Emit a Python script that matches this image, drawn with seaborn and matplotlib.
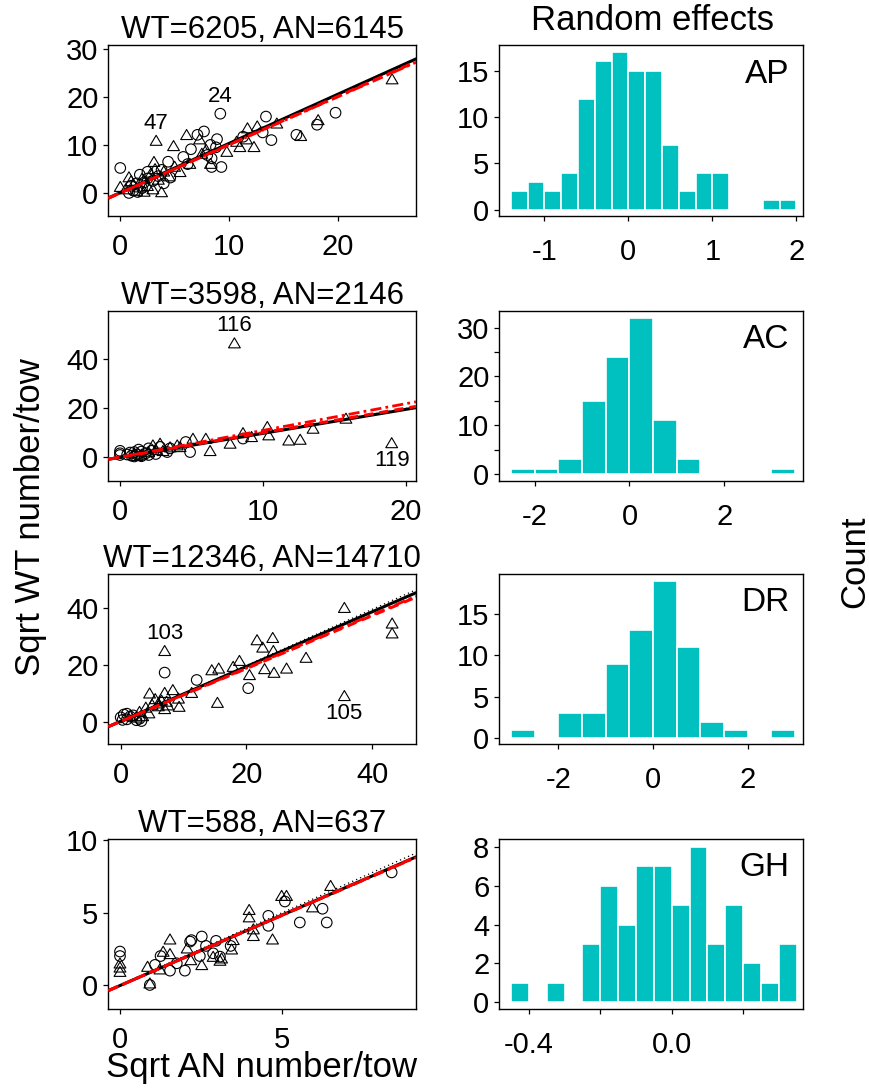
import numpy as np
import pandas as pd
import matplotlib
matplotlib.use("Agg")
import matplotlib.pyplot as plt
from matplotlib.path import Path
import seaborn as sns

# ---------------- data ----------------
titles = ["WT=6205, AN=6145", "WT=3598, AN=2146", "WT=12346, AN=14710", "WT=588, AN=637"]
species = ["AP", "AC", "DR", "GH"]

# panel 1 (AP)
p1_circ_x = [0.0, 9.2, 13.4, 19.8, 16.2, 18.1, 13.9, 7.7, 7.1, 6.5, 8.9, 8.3, 9.3, 8.4, 4.4, 5.8, 2.5,
             13.1, 11.3, 8.0, 8.4, 1.0, 1.5, 2.0, 2.5, 3.0, 1.2, 2.2, 3.5, 4.0, 1.8, 0.8, 1.6, 3.8, 4.6, 8.8, 6.2]
p1_circ_y = [5.2, 16.5, 15.9, 16.7, 12.1, 14.2, 11.0, 12.8, 12.1, 9.1, 11.2, 10.0, 5.4, 5.4, 6.5, 7.5, 4.4,
             12.6, 11.7, 7.9, 7.2, 1.5, 2.0, 1.0, 3.0, 2.5, 0.5, 2.2, 3.5, 2.0, 3.8, 0.0, 0.2, 4.8, 3.2, 9.5, 6.0]
p1_tri_x = [25.0, 3.3, 6.1, 4.9, 7.3, 11.7, 12.6, 14.4, 18.2, 16.6, 12.3, 11.0, 9.8, 10.7, 3.1, 3.8, 5.5,
            0.0, 0.8, 8.3, 7.5, 6.4, 0.5, 1.0, 1.5, 2.0, 2.5, 3.0, 3.5, 4.0, 1.2, 2.8, 1.8, 4.5, 5.0, 3.2,
            2.2, 11.6, 7.9]
p1_tri_y = [23.7, 10.9, 12.1, 9.8, 11.2, 13.5, 13.9, 14.5, 15.2, 11.9, 9.6, 9.6, 8.6, 10.7, 6.5, 0.2, 4.4,
            1.3, 3.3, 6.1, 8.2, 6.1, 0.8, 2.5, 0.5, 3.0, 1.5, 0.8, 2.8, 4.5, 1.8, 4.0, 1.2, 3.5, 5.5, 5.0,
            0.3, 11.2, 9.0]

# panel 2 (AC)
p2_circ_x = [8.6, 4.9, 4.6, 3.3, 2.8, 0.0, 0.0, 0.0, 0.5, 0.8, 1.0, 1.2, 1.5, 1.8, 2.0, 2.2, 1.0, 1.5,
             0.7, 2.5, 3.5, 1.3, 2.0]
p2_circ_y = [7.5, 2.0, 6.1, 2.0, 4.1, 1.5, 2.5, 0.8, 1.0, 0.5, 2.0, 1.0, 0.3, 1.5, 0.8, 2.5, 0.2, 2.2,
             1.8, 1.2, 3.5, 3.0, 3.5]
p2_tri_x = [8.0, 19.0, 15.8, 13.5, 11.8, 12.6, 10.3, 10.4, 9.2, 8.6, 7.7, 6.3, 6.0, 5.1, 4.0, 2.3, 2.8,
            4.2, 1.0, 1.5, 2.0, 2.5, 3.0, 3.5, 1.2]
p2_tri_y = [46.4, 5.7, 15.7, 11.6, 6.8, 7.1, 12.3, 8.9, 8.2, 9.8, 5.5, 2.5, 7.5, 7.5, 4.8, 4.8, 5.5,
            4.1, 1.5, 1.0, 2.0, 3.0, 2.5, 4.0, 0.5]

# panel 3 (DR)
p3_circ_x = [7.0, 12.1, 20.3, 0.0, 0.5, 1.0, 1.5, 2.0, 2.5, 3.3, 1.0, 0.3, 3.0]
p3_circ_y = [17.3, 14.7, 11.8, 1.5, 2.5, 0.8, 1.8, 2.2, 0.5, 0.2, 2.8, 0.6, 1.0]
p3_tri_x = [35.6, 43.2, 43.2, 35.6, 7.0, 21.7, 24.2, 22.6, 24.3, 29.5, 26.4, 24.4, 22.9, 20.5, 18.9,
            17.9, 15.6, 14.5, 15.4, 11.3, 9.3, 8.3, 7.0, 4.6, 9.2, 7.3, 3.0, 4.0, 5.0, 6.0, 6.5, 7.0,
            5.5, 3.5, 4.5, 6.0, 7.5, 2.5, 1.5]
p3_tri_y = [40.2, 34.7, 31.2, 9.1, 25.0, 28.8, 29.6, 26.2, 25.0, 22.6, 18.8, 17.3, 18.6, 16.5, 21.5,
            19.4, 18.8, 18.2, 6.7, 10.2, 5.3, 11.2, 10.2, 10.0, 8.2, 7.1, 3.5, 5.0, 6.0, 5.5, 7.5, 4.5,
            8.0, 2.0, 3.0, 6.5, 5.8, 1.5, 2.0]

# panel 4 (GH)
p4_circ_x = [0.0, 0.0, 0.92, 8.37, 5.08, 4.57, 4.57, 5.54, 6.24, 6.37, 2.52, 2.16, 2.96, 2.65, 3.41,
             2.46, 1.25, 1.08, 1.54, 2.0, 1.75, 2.87, 3.08, 2.2]
p4_circ_y = [2.31, 2.0, 0.0, 7.78, 5.77, 4.78, 4.09, 4.32, 5.27, 4.32, 3.35, 3.0, 3.05, 2.70, 2.70,
             2.0, 2.0, 1.39, 0.99, 0.99, 1.5, 2.19, 1.96, 3.1]
p4_tri_x = [0.0, 0.0, 0.0, 0.92, 0.85, 1.23, 1.33, 1.54, 1.54, 2.07, 2.18, 2.52, 3.08, 3.44, 3.49,
            3.98, 3.98, 4.11, 4.11, 4.70, 4.98, 5.13, 5.93, 6.49, 3.13, 2.87]
p4_tri_y = [1.5, 0.92, 1.22, 0.12, 1.27, 1.09, 2.31, 3.16, 2.15, 2.54, 1.73, 1.39, 1.69, 2.47, 3.12,
            5.2, 4.69, 3.86, 3.40, 3.16, 6.17, 6.17, 5.38, 6.86, 1.85, 1.96]

# outlier labels: (panel, shape, index in that shape's list, text, direction)
outlier_labels = [
    (0, "circ", 1, "24", 1), (0, "tri", 1, "47", 1),
    (1, "tri", 0, "116", 1), (1, "tri", 1, "119", -1),
    (2, "tri", 4, "103", 1), (2, "tri", 3, "105", -1),
]

# fitted lines: intercept / slope for solid black, dotted black, dashed red, dash-dot red
line_solid_a = [0.08, -0.15, 0.13, -0.04]
line_solid_b = [1.023, 0.978, 0.965, 0.975]
line_dot_a = [0.0, 0.0, 0.0, 0.0]
line_dot_b = [1.02, 0.99, 0.99, 1.0]
line_dash_a = [0.0, -0.1, 0.07, -0.04]
line_dash_b = [1.005, 1.0, 0.933, 0.975]
line_dd_a = [0.0, -0.07, 0.07, -0.04]
line_dd_b = [1.0, 1.09, 0.94, 0.97]

# scatter axes
sc_xticks = [[0, 10, 20], [0, 10, 20], [0, 20, 40], [0, 5]]
sc_yticks = [[0, 10, 20, 30], [0, 20, 40], [0, 20, 40], [0, 5, 10]]
sc_xlim = [(-1.1, 27.2), (-0.82, 20.7), (-1.97, 47.0), (-0.36, 9.12)]
sc_ylim = [(-4.8, 30.8), (-9.8, 59.5), (-7.9, 52.1), (-1.66, 10.09)]

# random-effect histograms
hist_start = [-1.4, -2.5, -3.0, -0.45]
hist_width = [0.2, 0.5, 0.5, 0.05]
ap_counts = [2, 3, 2, 4, 12, 16, 17, 15, 15, 7, 2, 4, 4, 0, 0, 1, 1]
ac_counts = [1, 1, 3, 15, 24, 32, 11, 3, 0, 0, 0, 1]
dr_counts = [1, 0, 3, 3, 9, 13, 19, 11, 2, 1, 0, 1]
gh_counts = [1, 0, 1, 0, 3, 6, 4, 7, 7, 5, 8, 3, 5, 2, 1, 3]
hist_counts = [ap_counts, ac_counts, dr_counts, gh_counts]
h_xticks = [[-1, 0, 1, 2], [-2, 0, 2], [-2, 0, 2], [-0.4, -0.2, 0.0, 0.2]]
h_xticklabels = [["-1", "0", "1", "2"], ["-2", "0", "2"], ["-2", "0", "2"], ["-0.4", "", "0.0", ""]]
h_yticks = [[0, 5, 10, 15], [0, 5, 10, 15, 20, 25, 30], [0, 5, 10, 15], [0, 2, 4, 6, 8]]
h_yticklabels = [["0", "5", "10", "15"], ["0", "", "10", "", "20", "", "30"], ["0", "5", "10", "15"],
                 ["0", "2", "4", "6", "8"]]
h_xlim = [(-1.536, 2.076), (-2.75, 3.66), (-3.25, 3.16), (-0.483, 0.367)]
h_ylim = [(-0.69, 17.78), (-1.43, 33.4), (-0.69, 19.8), (-0.34, 8.4)]

circ_x = [p1_circ_x, p2_circ_x, p3_circ_x, p4_circ_x]
circ_y = [p1_circ_y, p2_circ_y, p3_circ_y, p4_circ_y]
tri_x = [p1_tri_x, p2_tri_x, p3_tri_x, p4_tri_x]
tri_y = [p1_tri_y, p2_tri_y, p3_tri_y, p4_tri_y]

# ---------------- style ----------------
sns.set_style("ticks")
plt.rcParams['font.family'] = ['Liberation Sans', 'DejaVu Sans']
plt.rcParams['axes.unicode_minus'] = False
plt.rcParams['axes.edgecolor'] = 'black'
plt.rcParams['axes.linewidth'] = 1.0
plt.rcParams['text.color'] = 'black'
plt.rcParams['axes.labelcolor'] = 'black'
plt.rcParams['xtick.color'] = 'black'
plt.rcParams['ytick.color'] = 'black'
plt.rcParams['xtick.labelcolor'] = 'black'
plt.rcParams['ytick.labelcolor'] = 'black'

W, H = 870, 1090
fig = plt.figure(figsize=(8.7, 10.9), dpi=100)

row_top = [45, 311, 574, 839]
row_bot = [216, 481, 744, 1009]
lx0, lx1 = 108.3, 416.0
rx0, rx1 = 499.3, 802.7

TICK_FS = 21
hist_color = "#00C0C0"
tri_marker = Path([(-1, -0.8), (1, -0.8), (0, 0.9), (-1, -0.8)], closed=True)

for i in range(4):
    b = 1 - row_bot[i] / H
    h = (row_bot[i] - row_top[i]) / H
    # ---- scatter panel ----
    ax = fig.add_axes([lx0 / W, b, (lx1 - lx0) / W, h])
    sns.scatterplot(x=circ_x[i], y=circ_y[i], marker='o', s=58, facecolor='none',
                    edgecolor='black', linewidth=0.8, ax=ax, zorder=2)
    sns.scatterplot(x=tri_x[i], y=tri_y[i], marker=tri_marker, s=72, facecolor='none',
                    edgecolor='black', linewidth=0.8, ax=ax, zorder=2)
    ax.axline((0, line_solid_a[i]), slope=line_solid_b[i], color='black', lw=2.2, zorder=3)
    ax.axline((0, line_dot_a[i]), slope=line_dot_b[i], color='black', lw=0.9, ls=(0, (1, 2.5)), zorder=3)
    ax.axline((0, line_dash_a[i]), slope=line_dash_b[i], color='red', lw=2.2, ls=(0, (3, 2)), zorder=4)
    ax.axline((0, line_dd_a[i]), slope=line_dd_b[i], color='red', lw=2.0, ls=(0, (4, 1.5, 1, 1.5)), zorder=4)
    for (pi, shape, idx, txt, d) in outlier_labels:
        if pi != i:
            continue
        px = circ_x[i][idx] if shape == "circ" else tri_x[i][idx]
        py = circ_y[i][idx] if shape == "circ" else tri_y[i][idx]
        ax.annotate(txt, (px, py), xytext=(0, 12.5 * d), textcoords='offset points',
                    ha='center', va='center', fontsize=16)
    ax.set_xlim(sc_xlim[i])
    ax.set_ylim(sc_ylim[i])
    ax.set_xticks(sc_xticks[i])
    ax.set_yticks(sc_yticks[i])
    ax.tick_params(axis='both', direction='out', length=3.6, width=0.9, labelsize=TICK_FS, color='black')
    ax.tick_params(axis='x', pad=8.5)
    ax.tick_params(axis='y', pad=3.5)
    for s in ax.spines.values():
        s.set_visible(True)
        s.set_linewidth(1.0)
        s.set_color('black')
    ax.set_xlabel("")
    ax.set_ylabel("")
    ax.set_title(titles[i], fontsize=22.5, pad=4)

    # ---- histogram panel ----
    hx = fig.add_axes([rx0 / W, b, (rx1 - rx0) / W, h])
    cnt = hist_counts[i]
    edges = hist_start[i] + hist_width[i] * np.arange(len(cnt) + 1)
    hdf = pd.DataFrame({"center": edges[:-1] + hist_width[i] / 2, "count": cnt})
    sns.histplot(data=hdf, x="center", weights="count", bins=list(edges), color=hist_color, alpha=1.0,
                 edgecolor='white', linewidth=1.2, ax=hx)
    hx.set_xlim(h_xlim[i])
    hx.set_ylim(h_ylim[i])
    hx.set_xticks(h_xticks[i])
    hx.set_xticklabels(h_xticklabels[i])
    hx.set_yticks(h_yticks[i])
    hx.set_yticklabels(h_yticklabels[i])
    hx.tick_params(axis='both', direction='out', length=3.6, width=0.9, labelsize=TICK_FS, color='black')
    hx.tick_params(axis='x', pad=12)
    hx.tick_params(axis='y', pad=3.5)
    for s in hx.spines.values():
        s.set_visible(True)
        s.set_linewidth(1.0)
        s.set_color('black')
    hx.set_xlabel("")
    hx.set_ylabel("")
    hx.text(0.957, 0.83, species[i], transform=hx.transAxes, ha='right', va='center', fontsize=24)

fig.text(262 / W, 1 - 1068 / H, "Sqrt AN number/tow", ha='center', va='center', fontsize=25)
fig.text(31 / W, 1 - 517 / H, "Sqrt WT number/tow", ha='center', va='center', fontsize=25, rotation=90)
fig.text(855 / W, 1 - 562 / H, "Count", ha='center', va='center', fontsize=25, rotation=90)
fig.text(653 / W, 1 - 21 / H, "Random effects", ha='center', va='center', fontsize=25)

fig.savefig("out.png", dpi=100)
